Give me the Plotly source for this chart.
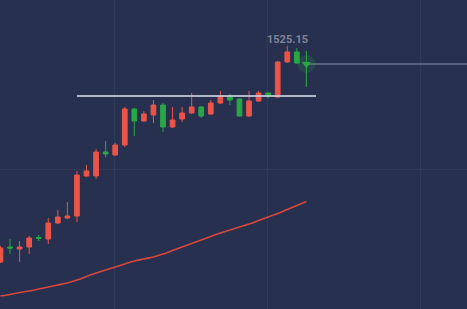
import plotly.graph_objects as go

idx = list(range(33))
open_ = [1309, 1324, 1322, 1324, 1333.5, 1332, 1348, 1353, 1355, 1395, 1395, 1419, 1416, 1426, 1462, 1450, 1456,
         1466, 1444, 1452, 1458, 1464, 1457, 1468, 1475, 1472, 1455, 1470, 1478, 1474, 1509, 1519, 1508]
high = [1325, 1332, 1330, 1335, 1336, 1353, 1361, 1369, 1400, 1406, 1422, 1430, 1428, 1464, 1463, 1460, 1471,
        1468, 1464, 1464, 1478, 1465, 1471, 1480, 1477, 1472.5, 1480, 1480, 1478.5, 1510, 1525.15, 1523, 1520]
low = [1308, 1317, 1309, 1317, 1330, 1327, 1347, 1352, 1349, 1394, 1392, 1414, 1415.5, 1424, 1435, 1449, 1448,
       1439, 1443, 1449, 1457, 1453, 1456, 1467, 1466, 1454.5, 1454, 1469.5, 1473, 1473.5, 1508.5, 1507.5, 1484]
close = [1323, 1323, 1324, 1333, 1332.5, 1348, 1354, 1355, 1396, 1400, 1419, 1417, 1426, 1462, 1450, 1457, 1466,
         1444, 1451, 1458, 1464, 1455, 1468, 1475, 1471, 1455, 1470, 1478, 1475, 1509, 1519, 1508, 1507]
ma = [1275, 1276.5, 1278.5, 1280, 1282, 1284, 1286, 1288, 1291, 1294.5, 1298, 1301, 1304, 1307, 1310, 1312, 1314,
      1317, 1320.5, 1324, 1327.5, 1331, 1334.5, 1338, 1341, 1344, 1347, 1350.5, 1354, 1357.5, 1361.5, 1365.5, 1369.5]

resistance_level = 1475
resistance_span = [8.0, 33.0]
max_label = "1525.15"

BG = "#283050"
RED = "#ea5548"
GREEN = "#27a844"

fig = go.Figure()
fig.add_trace(go.Scatter(x=idx, y=ma, mode="lines", line=dict(color="#d9473a", width=1.6, shape="spline"),
                         hoverinfo="skip"))
fig.add_trace(go.Candlestick(
    x=idx, open=open_, high=high, low=low, close=close,
    increasing=dict(line=dict(color=RED, width=1), fillcolor=RED),
    decreasing=dict(line=dict(color=GREEN, width=1), fillcolor=GREEN),
    whiskerwidth=0,
))
# resistance line
fig.add_trace(go.Scatter(x=resistance_span, y=[resistance_level] * 2, mode="lines",
                         line=dict(color="rgba(200,204,218,0.85)", width=2), hoverinfo="skip"))
# last price line
last_i = idx[-1]
fig.add_trace(go.Scatter(x=[last_i, 49], y=[close[-1]] * 2, mode="lines",
                         line=dict(color="#8a8fa6", width=1), hoverinfo="skip"))
# glow + marker
fig.add_trace(go.Scatter(x=[last_i], y=[close[-1]], mode="markers",
                         marker=dict(color="rgba(39,168,68,0.18)", size=18), hoverinfo="skip"))
fig.add_trace(go.Scatter(x=[last_i], y=[close[-1]], mode="markers",
                         marker=dict(color=GREEN, size=8, symbol="triangle-down"), hoverinfo="skip"))

imax = high.index(max(high))
fig.add_annotation(x=idx[imax], y=high[imax], text=max_label, showarrow=False, yanchor="bottom", yshift=-2,
                   font=dict(family="Roboto", size=11, color="#7f8498", weight="bold"))

fig.update_layout(
    width=467, height=309, margin=dict(l=0, r=0, t=0, b=0),
    paper_bgcolor=BG, plot_bgcolor=BG, showlegend=False,
    xaxis=dict(range=[-0.05, 48.8], rangeslider=dict(visible=False), showticklabels=False,
               tickvals=[11.9, 27.9, 43.9], gridcolor="#313958", gridwidth=1, zeroline=False, showline=False),
    yaxis=dict(range=[1262, 1571], showticklabels=False, tickvals=[1401.5], gridcolor="#313958",
               zeroline=False, showline=False),
)
fig.write_html("out.html")
